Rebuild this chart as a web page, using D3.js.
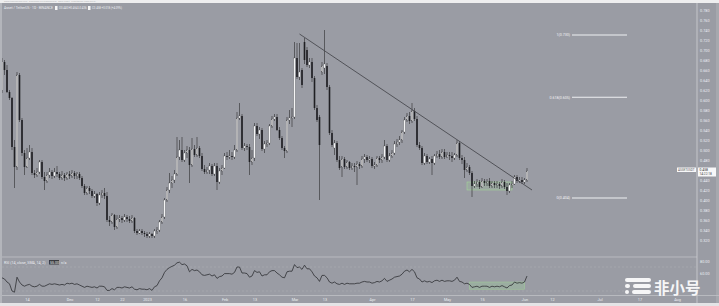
<!DOCTYPE html>
<html><head><meta charset="utf-8">
<script src="https://cdnjs.cloudflare.com/ajax/libs/d3/7.8.5/d3.min.js"></script>
<style>html,body{margin:0;padding:0;background:#9a9ca4;overflow:hidden}svg{display:block}</style>
</head><body><svg id="c" width="719" height="306"></svg>
<script>
// ---------- DATA ----------
const firstCandle = "2022-11-04"; // daily candles, one per day
const opens = [
0.620,0.676,0.660,0.616,0.604,0.506,0.466,0.650,0.560,0.494,
0.466,0.484,0.496,0.454,0.450,0.456,0.476,0.446,0.438,0.450,
0.456,0.448,0.456,0.452,0.444,0.450,0.444,0.452,0.448,0.454,
0.448,0.452,0.444,0.428,0.414,0.424,0.418,0.408,0.412,0.394,
0.410,0.414,0.408,0.360,0.356,0.370,0.346,0.362,0.364,0.360,
0.366,0.362,0.358,0.364,0.338,0.334,0.338,0.334,0.332,0.328,
0.332,0.328,0.338,0.340,0.356,0.366,0.400,0.420,0.434,0.440,
0.452,0.486,0.500,0.480,0.494,0.500,0.470,0.502,0.490,0.504,
0.488,0.462,0.456,0.460,0.468,0.452,0.468,0.436,0.458,0.464,
0.488,0.486,0.488,0.486,0.500,0.564,0.568,0.504,0.508,0.506,
0.476,0.484,0.548,0.532,0.540,0.502,0.512,0.514,0.548,0.562,
0.566,0.540,0.524,0.504,0.498,0.560,0.564,0.566,0.684,0.646,
0.660,0.716,0.700,0.670,0.676,0.644,0.584,0.566,0.656,0.664,
0.668,0.626,0.534,0.504,0.514,0.480,0.466,0.482,0.466,0.476,
0.464,0.468,0.466,0.472,0.468,0.482,0.486,0.480,0.482,0.468,
0.470,0.484,0.480,0.486,0.508,0.480,0.488,0.494,0.512,0.516,
0.520,0.536,0.560,0.568,0.558,0.578,0.562,0.510,0.504,0.474,
0.488,0.476,0.482,0.474,0.488,0.492,0.486,0.496,0.486,0.490,
0.488,0.484,0.490,0.514,0.484,0.480,0.460,0.466,0.454,0.428,
0.432,0.436,0.426,0.438,0.434,0.438,0.428,0.434,0.430,0.432,
0.428,0.436,0.426,0.418,0.430,0.432,0.446,0.438,0.440,0.436,0.440];
const highs = [
0.684,0.680,0.670,0.620,0.606,0.520,0.656,0.654,0.564,0.500,
0.504,0.510,0.504,0.460,0.464,0.480,0.480,0.456,0.456,0.464,
0.460,0.464,0.468,0.456,0.458,0.454,0.456,0.458,0.460,0.458,
0.456,0.456,0.448,0.432,0.428,0.428,0.422,0.418,0.414,0.416,
0.420,0.424,0.416,0.368,0.374,0.372,0.370,0.370,0.368,0.372,
0.370,0.368,0.370,0.366,0.342,0.342,0.342,0.338,0.336,0.336,
0.334,0.342,0.346,0.360,0.372,0.404,0.426,0.454,0.448,0.460,
0.526,0.520,0.526,0.500,0.508,0.506,0.524,0.510,0.526,0.508,
0.494,0.470,0.466,0.474,0.472,0.474,0.474,0.464,0.470,0.494,
0.496,0.500,0.496,0.510,0.576,0.594,0.572,0.514,0.512,0.512,
0.500,0.554,0.554,0.546,0.544,0.518,0.520,0.552,0.568,0.572,
0.572,0.546,0.528,0.508,0.566,0.580,0.584,0.716,0.714,0.714,
0.664,0.724,0.706,0.684,0.684,0.648,0.590,0.570,0.676,0.740,
0.674,0.630,0.540,0.520,0.518,0.488,0.488,0.486,0.480,0.478,
0.474,0.474,0.478,0.476,0.488,0.492,0.490,0.488,0.486,0.476,
0.488,0.488,0.492,0.520,0.512,0.494,0.500,0.518,0.522,0.528,
0.540,0.566,0.574,0.576,0.594,0.584,0.568,0.516,0.508,0.494,
0.492,0.486,0.488,0.492,0.498,0.500,0.502,0.502,0.496,0.496,
0.496,0.494,0.520,0.518,0.490,0.486,0.474,0.470,0.458,0.438,
0.442,0.440,0.444,0.442,0.442,0.444,0.438,0.438,0.438,0.436,
0.442,0.440,0.434,0.434,0.438,0.450,0.450,0.446,0.446,0.444,0.464];
const lows = [
0.614,0.650,0.614,0.600,0.500,0.424,0.460,0.556,0.488,0.450,
0.464,0.480,0.450,0.444,0.446,0.452,0.442,0.420,0.434,0.444,
0.442,0.444,0.446,0.440,0.440,0.438,0.440,0.442,0.444,0.442,
0.442,0.440,0.424,0.410,0.410,0.412,0.404,0.404,0.388,0.390,
0.404,0.402,0.356,0.348,0.352,0.340,0.342,0.356,0.354,0.356,
0.356,0.354,0.354,0.334,0.330,0.332,0.330,0.326,0.324,0.324,
0.324,0.324,0.332,0.336,0.352,0.362,0.396,0.414,0.424,0.434,
0.448,0.480,0.476,0.476,0.484,0.434,0.466,0.486,0.486,0.484,
0.458,0.452,0.452,0.452,0.448,0.448,0.420,0.432,0.450,0.462,
0.480,0.482,0.480,0.482,0.496,0.560,0.500,0.498,0.500,0.450,
0.470,0.478,0.528,0.522,0.498,0.494,0.506,0.510,0.544,0.558,
0.538,0.520,0.500,0.484,0.494,0.552,0.546,0.562,0.642,0.640,
0.624,0.672,0.666,0.664,0.636,0.580,0.556,0.400,0.650,0.652,
0.620,0.530,0.506,0.490,0.476,0.460,0.446,0.462,0.462,0.460,
0.460,0.456,0.430,0.462,0.464,0.474,0.476,0.474,0.464,0.462,
0.466,0.474,0.474,0.482,0.476,0.476,0.484,0.490,0.506,0.510,
0.514,0.532,0.556,0.552,0.554,0.558,0.506,0.500,0.470,0.470,
0.472,0.472,0.450,0.470,0.484,0.482,0.482,0.482,0.484,0.480,
0.476,0.480,0.486,0.480,0.472,0.444,0.456,0.450,0.406,0.424,
0.426,0.422,0.424,0.428,0.428,0.424,0.424,0.424,0.424,0.422,
0.424,0.422,0.410,0.414,0.424,0.430,0.434,0.434,0.432,0.432,0.436];
const closes = [
0.676,0.660,0.616,0.604,0.506,0.466,0.650,0.560,0.494,0.466,
0.484,0.496,0.454,0.450,0.456,0.476,0.446,0.438,0.450,0.456,
0.448,0.456,0.452,0.444,0.450,0.444,0.452,0.448,0.454,0.448,
0.452,0.444,0.428,0.414,0.424,0.418,0.408,0.412,0.394,0.410,
0.414,0.408,0.360,0.356,0.370,0.346,0.362,0.364,0.360,0.366,
0.362,0.358,0.364,0.338,0.334,0.338,0.334,0.332,0.328,0.332,
0.328,0.338,0.340,0.356,0.366,0.400,0.420,0.434,0.440,0.452,
0.486,0.500,0.480,0.494,0.500,0.470,0.502,0.490,0.504,0.488,
0.462,0.456,0.460,0.468,0.452,0.468,0.436,0.458,0.464,0.488,
0.486,0.488,0.486,0.500,0.564,0.568,0.504,0.508,0.506,0.476,
0.484,0.548,0.532,0.540,0.502,0.512,0.514,0.548,0.562,0.566,
0.540,0.524,0.504,0.498,0.560,0.564,0.566,0.684,0.646,0.656,
0.630,0.680,0.670,0.676,0.644,0.584,0.560,0.510,0.668,0.672,
0.626,0.534,0.510,0.514,0.480,0.464,0.482,0.466,0.476,0.464,
0.468,0.466,0.472,0.468,0.482,0.486,0.480,0.482,0.468,0.470,
0.484,0.480,0.486,0.508,0.480,0.488,0.494,0.512,0.516,0.520,
0.536,0.560,0.568,0.558,0.578,0.562,0.510,0.504,0.474,0.488,
0.476,0.482,0.474,0.488,0.492,0.486,0.496,0.486,0.490,0.488,
0.484,0.490,0.514,0.484,0.480,0.460,0.466,0.454,0.428,0.432,
0.436,0.426,0.438,0.434,0.436,0.428,0.434,0.430,0.432,0.428,
0.436,0.426,0.418,0.430,0.432,0.446,0.438,0.440,0.436,0.440,0.458];
const rsiValues = [
52,50,45,42,30,28,53,45,40,38,
40,41,38,37,38,41,38,38,40,42,
41,42,41,40,41,40,43,42,43,41,
42,40,38,36,38,37,36,37,35,38,
38,37,31,31,34,32,36,36,35,37,
36,35,37,33,32,34,33,33,32,34,
31,37,39,47,52,61,66,69,71,73,
77,78,74,75,72,62,66,64,65,62,
57,56,57,58,55,57,51,54,55,59,
59,59,58,61,70,70,60,60,59,53,
55,64,61,62,55,57,57,62,64,64,
60,57,53,52,62,63,63,74,69,70,
66,73,67,67,62,55,52,46,56,56,
52,45,43,45,42,41,43,41,43,42,
42,42,43,43,45,46,45,45,43,44,
46,45,47,51,46,48,50,53,54,55,
58,63,65,62,66,62,52,50,45,47,
45,46,44,47,48,46,48,46,47,47,
46,48,53,46,45,42,43,41,36,37,
38,36,38,38,38,36,38,37,38,37,
39,37,35,39,40,45,43,44,43,45,55];

const priceTicks = [0.32,0.34,0.36,0.38,0.40,0.42,0.44,0.46,0.48,0.50,0.52,0.54,0.56,0.58,0.60,0.62,0.64,0.66,0.68,0.70,0.72,0.74,0.76,0.78];
const rsiTicks = [80, 60];
const timeTickDates = ["2022-11-14","2022-12-01","2022-12-12","2022-12-22","2023-01-01","2023-01-16","2023-02-01","2023-02-13","2023-03-01","2023-03-13","2023-04-01","2023-04-17","2023-05-01","2023-05-15","2023-06-01","2023-06-12","2023-07-01","2023-07-17","2023-08-01"];
const timeTickLabels = ["14","Dec","12","22","2023","16","Feb","13","Mar","13","Apr","17","May","15","Jun","12","Jul","17","Aug"];

const trendDates = ["2023-03-03","2023-06-04"];
const trendPrices = [0.732, 0.420];
const fibRatios = [1, 0.618, 0];
const fibLow = 0.404, fibHigh = 0.730;
const fibDates = ["2023-06-20","2023-07-12"];
const zoneDates = ["2023-05-09","2023-05-27"];
const zonePrices = [0.436, 0.420];
const rsiZoneDates = ["2023-05-10","2023-06-01"];
const rsiZoneValues = [45, 33];

// ---------- DRAW ----------
const P = d3.utcParse("%Y-%m-%d");
const svg = d3.select("#c");
const W = 719, H = 306;
const axisX = 697;
const FONT = "Roboto, 'DejaVu Sans', sans-serif";
const txt = "#eceef2";

const t0 = P(firstCandle);
const candles = closes.map((c, i) => ({
  date: d3.utcDay.offset(t0, i), o: opens[i], h: highs[i], l: lows[i], c: c, r: rsiValues[i]
}));

const x = d3.scaleUtc().domain([P("2022-11-01"), P("2023-08-14")]).range([-5.5, 709.5]);
const y = d3.scaleLinear().domain([0.30, 0.80]).range([250, 0]);
const ry = d3.scaleLinear().domain([0, 100]).range([309, 249]);

svg.append("rect").attr("width", W).attr("height", H).attr("fill", "#9a9ca4");
svg.append("rect").attr("width", W).attr("height", 3).attr("fill", "#eeeeef");
svg.append("text").attr("x", 4).attr("y", 2.4).attr("font-size", 2.4).attr("fill", "#b5b5b8")
  .attr("font-family", FONT).text("www.tradingview.com · published on TradingView · Daily chart · ChartOrigin 2023-06-01");
svg.append("rect").attr("x", 0).attr("y", 3).attr("width", 2).attr("height", 300).attr("fill", "#b3b5bb");
svg.append("rect").attr("x", 0).attr("y", 303).attr("width", W).attr("height", 3).attr("fill", "#e4e4e6");
svg.append("rect").attr("x", 716).attr("y", 3).attr("width", 3).attr("height", 300).attr("fill", "#a6a8ae");

const defs = svg.append("defs");
defs.append("clipPath").attr("id", "mainClip").append("rect").attr("x", 2).attr("y", 4).attr("width", axisX - 2).attr("height", 252);
defs.append("clipPath").attr("id", "rsiClip").append("rect").attr("x", 2).attr("y", 257.5).attr("width", axisX - 2).attr("height", 37);

svg.append("line").attr("x1", 2).attr("x2", axisX).attr("y1", 257).attr("y2", 257).attr("stroke", "#c0c2c7").attr("stroke-width", 0.8);
svg.append("line").attr("x1", 2).attr("x2", W).attr("y1", 295.5).attr("y2", 295.5).attr("stroke", "#c0c2c7").attr("stroke-width", 0.8);
svg.append("line").attr("x1", axisX).attr("x2", axisX).attr("y1", 3).attr("y2", 303).attr("stroke", "#cfd0d4").attr("stroke-width", 0.8);

const main = svg.append("g").attr("clip-path", "url(#mainClip)");

main.append("rect")
  .attr("x", x(P(zoneDates[0]))).attr("width", x(P(zoneDates[1])) - x(P(zoneDates[0])))
  .attr("y", y(zonePrices[0])).attr("height", y(zonePrices[1]) - y(zonePrices[0]))
  .attr("fill", "rgba(160,225,150,0.18)").attr("stroke", "rgba(165,230,150,0.75)").attr("stroke-width", 0.6);

const bw = 1.6;
const cg = main.append("g");
cg.selectAll("line.w").data(candles).join("line")
  .attr("x1", d => x(d.date)).attr("x2", d => x(d.date))
  .attr("y1", d => y(d.h)).attr("y2", d => y(d.l))
  .attr("stroke", "#2b2b2e").attr("stroke-width", 0.6);
cg.selectAll("rect.b").data(candles).join("rect")
  .attr("x", d => x(d.date) - bw / 2).attr("width", bw)
  .attr("y", d => y(Math.max(d.o, d.c)))
  .attr("height", d => Math.max(0.7, Math.abs(y(d.o) - y(d.c))))
  .attr("fill", d => d.c >= d.o ? "#f4f4f5" : "#1f1f23")
  .attr("stroke", d => d.c >= d.o ? "#3a3a3e" : "none").attr("stroke-width", 0.25);

main.append("line")
  .attr("x1", x(P(trendDates[0]))).attr("y1", y(trendPrices[0]))
  .attr("x2", x(P(trendDates[1]))).attr("y2", y(trendPrices[1]))
  .attr("stroke", "#4a4b50").attr("stroke-width", 0.9);

const fx0 = x(P(fibDates[0])), fx1 = x(P(fibDates[1]));
fibRatios.forEach(r => {
  const p = fibLow + r * (fibHigh - fibLow);
  main.append("line").attr("x1", fx0).attr("x2", fx1).attr("y1", y(p)).attr("y2", y(p))
    .attr("stroke", "#eeeff2").attr("stroke-width", 1.1);
  main.append("text").attr("x", fx0 - 2).attr("y", y(p) + 1.3).attr("text-anchor", "end")
    .attr("font-size", 3.6).attr("font-family", FONT).attr("fill", "#f2f3f5")
    .text(`${r}(${p.toFixed(3)})`);
});

// legend top
const lg = svg.append("g").attr("font-family", FONT).attr("font-size", 3.4).attr("fill", txt);
lg.append("text").attr("x", 4).attr("y", 9.3).text("Asset / TetherUS · 1D · BINANCE");
lg.append("rect").attr("x", 55).attr("y", 6).attr("width", 2.5).attr("height", 4).attr("fill", "#f5f5f5");
const last = candles[candles.length - 1];
lg.append("text").attr("x", 59).attr("y", 9.3).attr("font-size", 2.8).text(`O${last.o.toFixed(3)}`);
lg.append("text").attr("x", 68.5).attr("y", 9.3).attr("font-size", 2.8).text(`H${last.h.toFixed(3)}`);
lg.append("text").attr("x", 78).attr("y", 9.3).attr("font-size", 2.8).text(`L${last.l.toFixed(3)}`);
lg.append("rect").attr("x", 88).attr("y", 6).attr("width", 2.5).attr("height", 4).attr("fill", "#f5f5f5");
lg.append("text").attr("x", 92).attr("y", 9.3).attr("font-size", 2.8).text(`C${last.c.toFixed(3)} +0.018 (+4.09%)`);

const pa = svg.append("g").attr("transform", `translate(${axisX + 2},0)`)
  .call(d3.axisRight(y).tickValues(priceTicks).tickFormat(d3.format(".3f")).tickSize(0).tickPadding(1));
pa.select(".domain").remove();
pa.selectAll("text").attr("font-size", 3.8).attr("fill", txt).attr("font-family", FONT);

const cy = y(last.c);
svg.append("rect").attr("x", 677).attr("y", cy - 3.5).attr("width", 19).attr("height", 4.5).attr("fill", "#f7f7f8");
svg.append("text").attr("x", 678).attr("y", cy - 0.2).attr("font-size", 3).attr("fill", "#555").attr("font-family", FONT).text("ASSETUSDT");
svg.append("rect").attr("x", 698).attr("y", cy - 3.5).attr("width", 18).attr("height", 9).attr("fill", "#f7f7f8");
svg.append("text").attr("x", 699.5).attr("y", cy + 0.3).attr("font-size", 3.4).attr("fill", "#333").attr("font-family", FONT).text(last.c.toFixed(3));
svg.append("text").attr("x", 699.5).attr("y", cy + 4.3).attr("font-size", 3.2).attr("fill", "#444").attr("font-family", FONT).text("14:22:18");

const rp = svg.append("g").attr("clip-path", "url(#rsiClip)");
[70, 30].forEach(v => rp.append("line").attr("x1", 2).attr("x2", axisX).attr("y1", ry(v)).attr("y2", ry(v))
  .attr("stroke", "#aeb0b6").attr("stroke-width", 0.5).attr("stroke-dasharray", "2,2"));
rp.append("rect")
  .attr("x", x(P(rsiZoneDates[0]))).attr("width", x(P(rsiZoneDates[1])) - x(P(rsiZoneDates[0])))
  .attr("y", ry(rsiZoneValues[0])).attr("height", ry(rsiZoneValues[1]) - ry(rsiZoneValues[0]))
  .attr("fill", "rgba(160,225,150,0.25)").attr("stroke", "rgba(165,230,150,0.7)").attr("stroke-width", 0.5);
rp.append("path").datum(candles)
  .attr("d", d3.line().x(d => x(d.date)).y(d => ry(d.r)))
  .attr("fill", "none").attr("stroke", "#2f3034").attr("stroke-width", 0.8);

const rl = svg.append("g").attr("font-family", FONT).attr("font-size", 3.6).attr("fill", txt);
rl.append("text").attr("x", 4).attr("y", 263.5).text("RSI (14, close, SMA, 14, 2)");
rl.append("rect").attr("x", 49).attr("y", 260).attr("width", 10).attr("height", 4.5).attr("fill", "#3a3b40");
rl.append("text").attr("x", 50).attr("y", 263.6).attr("fill", "#f2f2f2").text(last.r.toFixed(2));
rl.append("text").attr("x", 61).attr("y", 263.5).text("n/a");

const ra = svg.append("g").attr("transform", `translate(${axisX + 2},0)`)
  .call(d3.axisRight(ry).tickValues(rsiTicks).tickFormat(d3.format(".2f")).tickSize(0).tickPadding(1));
ra.select(".domain").remove();
ra.selectAll("text").attr("font-size", 3.8).attr("fill", txt).attr("font-family", FONT);

const ta = svg.append("g").attr("transform", "translate(0,296)")
  .call(d3.axisBottom(x).tickValues(timeTickDates.map(P)).tickFormat((d, i) => timeTickLabels[i]).tickSize(0).tickPadding(2.5));
ta.select(".domain").remove();
ta.selectAll("text").attr("font-size", 3.8).attr("fill", txt).attr("font-family", FONT);

// watermark
const wm = svg.append("g").attr("fill", "#f6f6f7");
wm.append("rect").attr("x", 625).attr("y", 278).attr("width", 26).attr("height", 4).attr("rx", 2);
wm.append("rect").attr("x", 625).attr("y", 284).attr("width", 5).attr("height", 4).attr("rx", 2);
wm.append("rect").attr("x", 633).attr("y", 284).attr("width", 18).attr("height", 4).attr("rx", 2);
wm.append("rect").attr("x", 625).attr("y", 290).attr("width", 4).attr("height", 4).attr("rx", 2);
wm.append("rect").attr("x", 632).attr("y", 290).attr("width", 19).attr("height", 4).attr("rx", 2);
wm.append("text").attr("x", 654).attr("y", 293.6).attr("font-size", 15.5).attr("font-weight", "bold")
  .attr("font-family", "'Noto Sans CJK SC', sans-serif").text("非小号");
</script></body></html>
